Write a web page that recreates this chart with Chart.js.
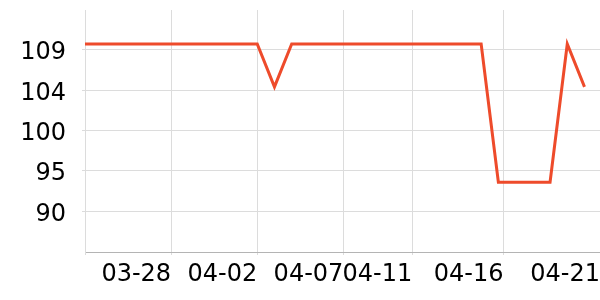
<!DOCTYPE html>
<html><head><meta charset="utf-8">
<script src="https://cdn.jsdelivr.net/npm/chart.js@4/dist/chart.umd.min.js"></script>
<style>html,body{margin:0;padding:0;background:#fff}#wrap{width:600px;height:300px}</style>
</head><body><div id="wrap"><canvas id="c" width="600" height="300"></canvas></div>
<script>
// Day offsets from 03-23 and the series values
const dates = ['03-23','03-24','03-25','03-26','03-27','03-28','03-29','03-30','03-31','04-01',
               '04-02','04-03','04-04','04-05','04-06','04-07','04-08','04-09','04-10','04-11',
               '04-12','04-13','04-14','04-15','04-16','04-17','04-18','04-19','04-20','04-21'];
const values = [109.7,109.7,109.7,109.7,109.7,109.7,109.7,109.7,109.7,109.7,
                109.7,104.7,109.7,109.7,109.7,109.7,109.7,109.7,109.7,109.7,
                109.7,109.7,109.7,109.7,93.6,93.6,93.6,93.6,109.7,104.7];
// x-axis ticks (in day offsets) and their labels
const xTickDays = [0, 5, 10, 15, 19, 24.3, 29.9];
const xTickLabels = ['', '03-28', '04-02', '04-07', '04-11', '04-16', '04-21'];
const xMax = 29.9;
// y-axis ticks
const yTicks = [90.2, 94.9, 99.6, 104.3, 109.0];
const yMin = 85.46, yMax = 113.66;

const points = values.map((v, i) => ({x: i, y: v}));
const noPad = s => { s.paddingTop = 0; s.paddingBottom = 0; s.paddingLeft = 0; s.paddingRight = 0; };

new Chart(document.getElementById('c'), {
  type: 'line',
  data: {
    datasets: [{
      data: points,
      borderColor: '#ee4b2b',
      borderWidth: 3,
      pointRadius: 0,
      tension: 0,
      fill: false
    }]
  },
  options: {
    responsive: false,
    animation: false,
    devicePixelRatio: 1,
    layout: {padding: {top: 10, right: 0, left: 0, bottom: 0}},
    plugins: {legend: {display: false}, tooltip: {enabled: false}},
    scales: {
      x: {
        type: 'linear',
        min: 0,
        max: xMax,
        afterBuildTicks: s => { s.ticks = xTickDays.map(v => ({value: v})); },
        afterFit: s => { s.height = 48; noPad(s); },
        ticks: {
          autoSkip: false,
          maxRotation: 0,
          align: 'end',
          padding: 5,
          color: '#000',
          font: {family: 'DejaVu Sans', size: 24},
          callback: (v, i) => xTickLabels[i]
        },
        grid: {
          color: ctx => (ctx.tick && ctx.tick.value === xMax) ? 'rgba(0,0,0,0)' : '#dcdcdc',
          tickLength: 3
        },
        border: {color: '#b4b4b4'}
      },
      y: {
        min: yMin,
        max: yMax,
        afterBuildTicks: s => { s.ticks = yTicks.map(v => ({value: v})); },
        afterFit: s => { s.width = 85; noPad(s); },
        ticks: {
          autoSkip: false,
          padding: 16,
          labelOffset: 3,
          color: '#000',
          font: {family: 'DejaVu Sans', size: 24},
          callback: v => String(Math.round(v))
        },
        grid: {color: '#dcdcdc', tickLength: 3},
        border: {color: '#dcdcdc'}
      }
    }
  }
});
</script></body></html>
